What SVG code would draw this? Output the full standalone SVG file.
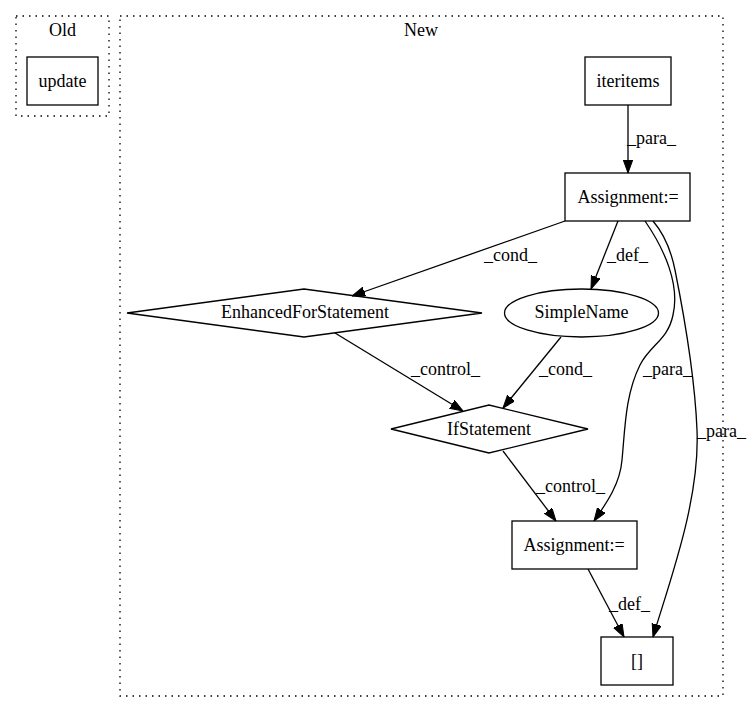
<svg xmlns="http://www.w3.org/2000/svg" width="752" height="712" viewBox="0 0 752 712">
<style>
text{font-family:"Liberation Serif","Times New Roman",serif;font-size:18px;fill:#000}
.n{text-anchor:middle}
.shape{fill:none;stroke:#000;stroke-width:1.3}
.cl{fill:none;stroke:#000;stroke-width:1.3;stroke-dasharray:1.5,5}
.e{fill:none;stroke:#000;stroke-width:1.3;marker-end:url(#arr)}
</style>
<defs>
<marker id="arr" markerWidth="13" markerHeight="10" refX="13" refY="4.7" orient="auto" markerUnits="userSpaceOnUse">
<path d="M0,0 L13,4.7 L0,9.4 z" fill="#000" stroke="#000" stroke-width="1"/>
</marker>
</defs>
<rect width="752" height="712" fill="#fff"/>
<g id="cluster_old">
<rect class="cl" x="16" y="16" width="93" height="100"/>
<text class="n" x="62.5" y="36">Old</text>
</g>
<g id="cluster_new">
<rect class="cl" x="120" y="16" width="603" height="680"/>
<text class="n" x="421" y="36">New</text>
</g>
<g id="update">
<rect class="shape" x="27" y="57" width="71" height="48"/>
<text class="n" x="62.5" y="87">update</text>
</g>
<g id="iteritems">
<rect class="shape" x="585" y="57" width="86" height="48"/>
<text class="n" x="628" y="87">iteritems</text>
</g>
<g id="assignment1">
<rect class="shape" x="565" y="173" width="125" height="48"/>
<text class="n" x="628" y="203">Assignment:=</text>
</g>
<g id="enhancedfor">
<polygon class="shape" points="127,313 304,289 482,313 304,337"/>
<text class="n" x="305" y="318">EnhancedForStatement</text>
</g>
<g id="simplename">
<ellipse class="shape" cx="581.5" cy="313" rx="77" ry="24"/>
<text class="n" x="581.5" y="318">SimpleName</text>
</g>
<g id="ifstatement">
<polygon class="shape" points="391,429 489,405 588,429 489,453"/>
<text class="n" x="489" y="435">IfStatement</text>
</g>
<g id="assignment2">
<rect class="shape" x="512" y="521" width="125" height="48"/>
<text class="n" x="574" y="551">Assignment:=</text>
</g>
<g id="brackets">
<rect class="shape" x="601" y="637" width="72" height="48"/>
<text class="n" x="637" y="667">[]</text>
</g>
<g id="connectors">
<path class="e" d="M628,105 L628,173"/>
<text x="627" y="144">_para_</text>
<path class="e" d="M565,221 L352,296"/>
<text x="484" y="261">_cond_</text>
<path class="e" d="M618,221 L591,289"/>
<text x="607" y="261">_def_</text>
<path class="e" d="M645,221 C665,250 680,285 673,315 C668,340 650,345 640,365 C625,395 625,430 622,460 C620,485 605,505 594,521"/>
<text x="643" y="375">_para_</text>
<path class="e" d="M653,221 C665,235 671,250 675,270 C685,320 695,380 697,430 C700,500 670,580 653,637"/>
<text x="697" y="437">_para_</text>
<path class="e" d="M335,333 L463,411"/>
<text x="411" y="375">_control_</text>
<path class="e" d="M561,337 L503,408"/>
<text x="539" y="375">_cond_</text>
<path class="e" d="M503,451 L556,521"/>
<text x="536" y="492">_control_</text>
<path class="e" d="M588,569 L624,637"/>
<text x="609" y="610">_def_</text>
</g>
</svg>
